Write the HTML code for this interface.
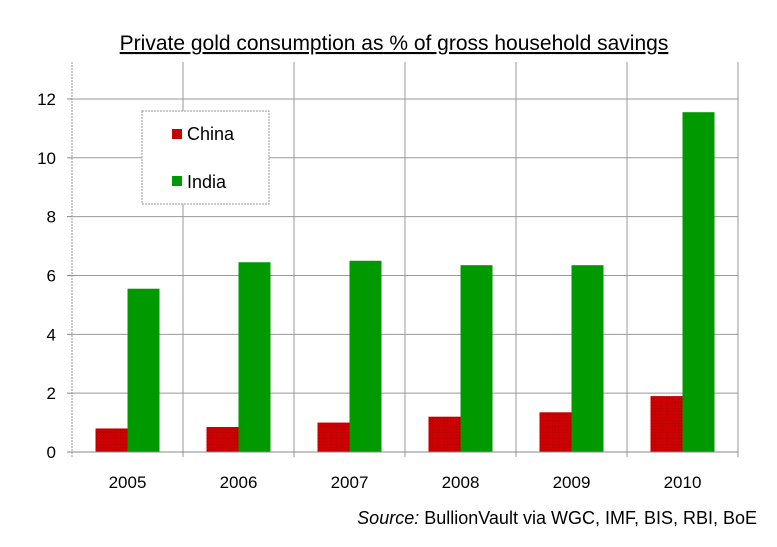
<!DOCTYPE html>
<html><head><meta charset="utf-8"><style>
body{margin:0;background:#fff;}
svg text{font-family:"Liberation Sans",Arial,sans-serif;fill:#000;}
</style></head><body>
<svg width="777" height="542" xmlns="http://www.w3.org/2000/svg">
<defs>
<pattern id="dots" width="3" height="3" patternUnits="userSpaceOnUse"><rect width="3" height="3" fill="#cc0000"/><rect width="1" height="1" fill="#a00000"/></pattern>
</defs>
<text x="394" y="50" text-anchor="middle" font-size="21" text-decoration="underline">Private gold consumption as % of gross household savings</text>
<g id="grid"></g>
<g id="bars"></g>
<g id="axes"></g>
<g>
<rect x="142" y="111" width="127" height="93" fill="#fff" stroke="#999" stroke-dasharray="2,1"/>
<rect x="172" y="129" width="10" height="10" fill="url(#dots)"/>
<text x="187" y="140" font-size="18">China</text>
<rect x="172" y="176" width="10" height="10" fill="#009900"/>
<text x="187" y="188" font-size="18">India</text>
</g>
<text x="757" y="524" text-anchor="end" font-size="18"><tspan font-style="italic">Source:</tspan> BullionVault via WGC, IMF, BIS, RBI, BoE</text>
</svg>
<script>
const categories=["2005","2006","2007","2008","2009","2010"];
const china=[0.8,0.85,1.0,1.2,1.35,1.9];
const india=[5.55,6.45,6.5,6.35,6.35,11.55];
const yTicks=[0,2,4,6,8,10,12];
const NS="http://www.w3.org/2000/svg";
const L=72,R=738,B=452,T=62,UNIT=29.42;
const y=v=>B-UNIT*v;
const bw=(R-L)/categories.length;
const x=i=>L+i*bw;
function mk(tag,attrs,parent){const e=document.createElementNS(NS,tag);for(const k in attrs)e.setAttribute(k,attrs[k]);document.getElementById(parent).appendChild(e);return e;}
yTicks.forEach(t=>{
 if(t>0){const g=mk('line',{x1:L,x2:R,y1:y(t),y2:y(t),stroke:'#999','stroke-width':1},'grid');
 
 }
 const tk=mk('line',{x1:L-5,x2:L,y1:y(t),y2:y(t),stroke:'#888'},'axes');
 
 
 const tx=mk('text',{x:L-16,y:y(t)+6,'text-anchor':'end','font-size':17},'axes');tx.textContent=t;
 
 
});
for(let i=0;i<=categories.length;i++){
 const g=mk('line',{x1:x(i),x2:x(i),y1:T,y2:B+5,stroke:'#999','stroke-width':1,'stroke-dasharray':(i==0?'2,1':'none')},'grid');
 
 
}
const w=32,gap=(bw-2*w)/2;
categories.forEach((c,i)=>{
 const r1=mk('rect',{x:x(i)+gap,y:y(china[i]),width:w,height:B-y(china[i]),fill:'url(#dots)'},'bars');
 
 
 const r2=mk('rect',{x:x(i)+gap+w,y:y(india[i]),width:w,height:B-y(india[i]),fill:'#009900'},'bars');
 
 
 const tx=mk('text',{x:x(i)+bw/2,y:488,'text-anchor':'middle','font-size':17},'axes');tx.textContent=c;
 
 
});
const ax=mk('line',{x1:L,x2:R,y1:B,y2:B,stroke:'#888'},'axes');


</script>
</body></html>
